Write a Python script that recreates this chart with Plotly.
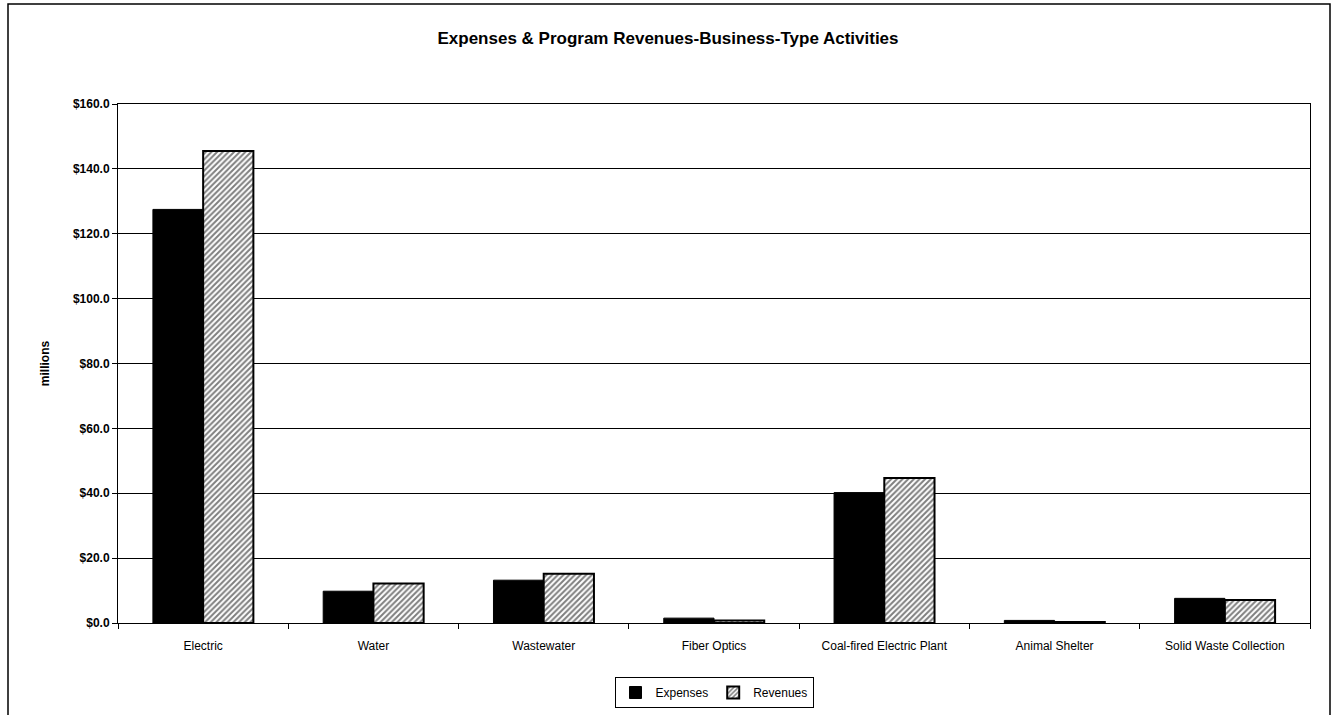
import plotly.graph_objects as go

categories = ["Electric", "Water", "Wastewater", "Fiber Optics",
              "Coal-fired Electric Plant", "Animal Shelter", "Solid Waste Collection"]
expenses = [127.5, 9.8, 13.2, 1.5, 40.2, 0.8, 7.6]
revenues = [145.5, 12.2, 15.2, 0.8, 44.7, 0.3, 7.1]
y_ticks = [0, 20, 40, 60, 80, 100, 120, 140, 160]
y_tick_labels = ["$%.1f" % v for v in y_ticks]

W, H = 1336, 715
L, R, T, B = 118, 26, 104, 92
pw, ph = W - L - R, H - T - B

fig = go.Figure()
fig.add_bar(x=categories, y=expenses, name="Expenses",
            marker=dict(color="black", line=dict(color="black", width=1)))
fig.add_bar(x=categories, y=revenues, name="Revenues",
            marker=dict(color="white", line=dict(color="black", width=2),
                        pattern=dict(shape="/", fgcolor="black", bgcolor="white",
                                     size=4, solidity=0.5)))

fig.update_layout(
    width=W, height=H,
    margin=dict(l=L, r=R, t=T, b=B, autoexpand=False),
    paper_bgcolor="white", plot_bgcolor="white",
    font=dict(family="Liberation Sans, Arial, sans-serif", color="black", size=12),
    title=dict(text="<b>Expenses & Program Revenues-Business-Type Activities</b>",
               x=0.5, xanchor="center", y=1 - 38 / H, yanchor="middle",
               font=dict(size=17)),
    barmode="group", bargap=0.41, bargroupgap=0,
    showlegend=True,
    legend=dict(orientation="h", x=0.5, xanchor="center", y=-(677 - (H - B)) / ph,
                yanchor="top", bordercolor="black", borderwidth=1,
                font=dict(size=12), itemwidth=30, tracegroupgap=0),
    xaxis=dict(showline=True, linecolor="black", linewidth=1, mirror=True,
               ticks="outside", tickson="boundaries", ticklen=5, tickcolor="black",
               ticklabelstandoff=12,
               showgrid=False, tickfont=dict(size=12)),
    yaxis=dict(range=[0, 160], tickvals=y_ticks, ticktext=y_tick_labels,
               showline=True, linecolor="black", linewidth=1, mirror=True,
               ticks="outside", ticklen=5, tickcolor="black",
               showgrid=True, gridcolor="black", gridwidth=1,
               tickfont=dict(size=12, weight="bold"),
               title=dict(text="<b>millions</b>", font=dict(size=12), standoff=20)),
    shapes=[dict(type="rect", xref="paper", yref="paper",
                 x0=(8 - L) / pw, x1=(1330 - L) / pw,
                 y0=-(B + 20) / ph, y1=1 + (T - 4) / ph,
                 line=dict(color="black", width=1.5), layer="below")],
)

fig.write_html("out.html")
